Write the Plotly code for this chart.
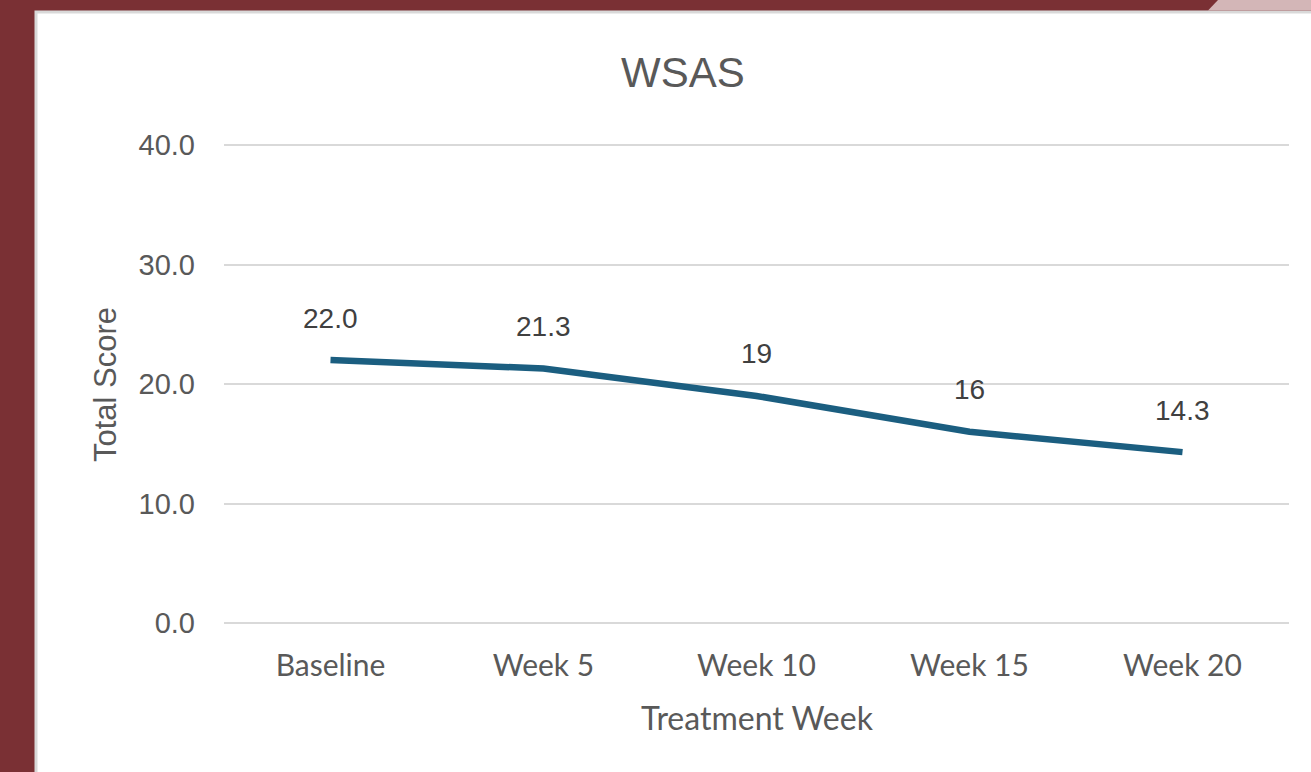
import plotly.graph_objects as go

categories = ["Baseline", "Week 5", "Week 10", "Week 15", "Week 20"]
scores = [22.0, 21.3, 19, 16, 14.3]
score_labels = ["22.0", "21.3", "19", "16", "14.3"]
y_ticks = [0, 10, 20, 30, 40]

W, H = 1311, 772
L, R, T, B = 224, 22, 143, 147
pw, ph = W - L - R, H - T - B
unit = (623 - 145) / 40.0
pad = 2 / unit

def px(xp):
    return (xp - L) / pw

def py(yp):
    return (H - B - yp) / ph

fig = go.Figure()
fig.add_trace(go.Scatter(
    x=categories, y=scores, mode="lines",
    line=dict(color="#1B5E80", width=6.5),
    hoverinfo="skip", showlegend=False,
))

annotations = []
for c, v, t in zip(categories, scores, score_labels):
    annotations.append(dict(x=c, y=v, xref="x", yref="y", text=t, showarrow=False,
                            xanchor="center", yanchor="middle", yshift=42,
                            font=dict(family="Liberation Sans", size=28, color="#404040")))
annotations.append(dict(x=px(757), y=py(717), xref="paper", yref="paper", text="Treatment Week",
                        xanchor="center", yanchor="middle", showarrow=False,
                        font=dict(family="Lato", size=32, color="#595959")))
annotations.append(dict(x=px(105), y=py(385), xref="paper", yref="paper", text="Total Score",
                        xanchor="center", yanchor="middle", textangle=-90, showarrow=False,
                        font=dict(family="Liberation Sans", size=31, color="#595959")))
annotations.append(dict(x=px(683), y=py(72), xref="paper", yref="paper", text="WSAS",
                        xanchor="center", yanchor="middle", showarrow=False,
                        font=dict(family="Liberation Sans", size=42, color="#595959")))

shapes = [
    dict(type="rect", xref="paper", yref="paper", x0=px(36), x1=px(W + 5), y0=py(H + 5), y1=py(12),
         fillcolor="white", line=dict(color="#D9D9D9", width=3), layer="below"),
    dict(type="path", xref="paper", yref="paper",
         path=f"M {px(1208)},{py(10.5)} L {px(1218)},{py(0)} L {px(W)},{py(0)} L {px(W)},{py(10.5)} Z",
         fillcolor="#D3B6B7", line=dict(width=0), layer="below"),
]

fig.update_layout(
    width=W, height=H,
    margin=dict(l=L, r=R, t=T, b=B),
    paper_bgcolor="#7A3034",
    plot_bgcolor="white",
    annotations=annotations,
    shapes=shapes,
    hovermode=False,
    xaxis=dict(type="category", range=[-0.5, 4.5], showgrid=False, zeroline=False,
               showline=False, ticks="", ticklabelstandoff=20,
               tickfont=dict(family="Lato", size=30, color="#595959")),
    yaxis=dict(range=[-pad, 40 + pad], tickvals=y_ticks, tickformat=".1f", showgrid=True,
               gridcolor="#D9D9D9", gridwidth=2, zeroline=False, showline=False, ticks="",
               ticklabelstandoff=28,
               tickfont=dict(family="Liberation Sans", size=29, color="#595959")),
)

fig.write_html("out.html", config={"displayModeBar": False},
               post_script="document.body.style.margin='0';document.body.style.padding='0';document.body.style.overflow='hidden';")
